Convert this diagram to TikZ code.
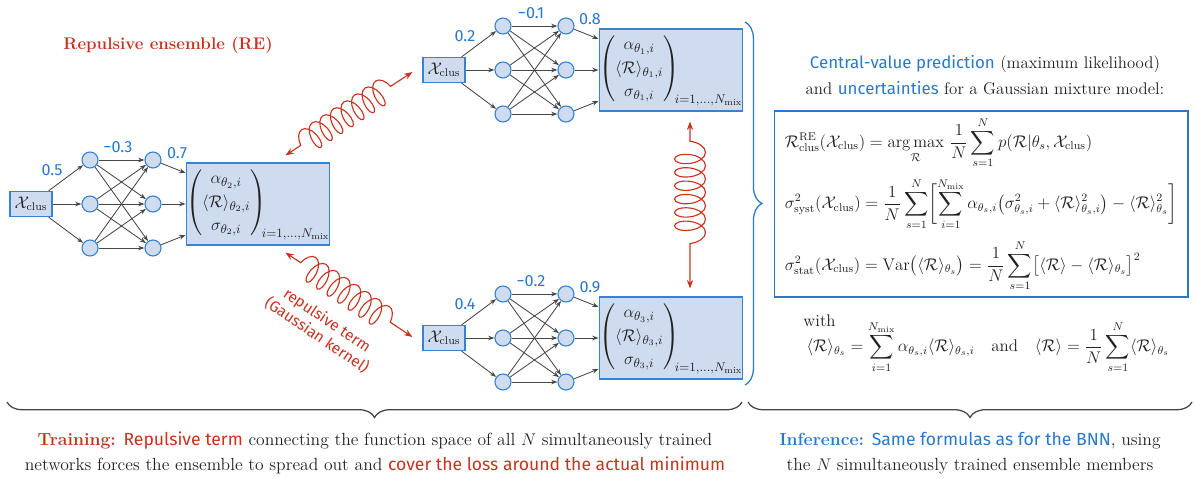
\documentclass[tikz,border=0pt]{standalone}
\usepackage{amsmath}
\usepackage{amssymb}
\usepackage{fontspec}
\usepackage{tikz}
\usetikzlibrary{calc,arrows.meta,decorations.pathmorphing,decorations.pathreplacing,positioning}
\newfontfamily\hlfont{Fira Sans}
\definecolor{myred}{RGB}{200,50,30}
\definecolor{myblue}{RGB}{40,120,205}
\definecolor{boxfill}{RGB}{207,220,240}
\definecolor{boxline}{RGB}{55,130,210}
\definecolor{linkgray}{RGB}{70,70,70}
\newcommand{\RR}{\mathcal{R}}
\newcommand{\XX}{\mathcal{X}_{\text{clus}}}
\newcommand{\Nmix}{N_{\text{mix}}}

% one member of the ensemble: prefix, input position, theta index, three weights
\newcommand{\ensnet}[6]{%
  \node [inbox] (#1in) at (#2) {$\XX$};
  \foreach \j/\dy in {1/-44,2/0,3/44} {
    \node [neuron] (#1a\j) at ($(#1in)+(59,\dy)$) {};
    \node [neuron] (#1b\j) at ($(#1in)+(122,\dy)$) {};
  }
  \node [outbox] (#1out) at ($(#1in)+(227,0)$)
    {\setlength{\arraycolsep}{1.5pt}%
     $\begin{pmatrix}\alpha_{\theta_#3,i}\\ \langle\RR\rangle_{\theta_#3,i}\\ \sigma_{\theta_#3,i}\end{pmatrix}_{\!\!i=1,\dots,\Nmix}$};
  \foreach \j/\dy in {1/-31,2/0,3/31}
    \coordinate (#1o\j) at ($(#1out.west)+(0,\dy)$);
  \node [weight] (#1w1) at ($(#1in)+(21,-34)$) {#4};
  \node [weight] (#1w2) at ($(#1in)+(87,-57)$) {#5};
  \node [weight] (#1w3) at ($(#1in)+(146,-51)$) {#6};
  \foreach \j in {1,2,3} {
    \draw [link] (#1in) -- (#1a\j);
    \draw [link] (#1b\j) -- (#1o\j);
    \foreach \k in {1,2,3}
      \draw [link] (#1a\j) -- (#1b\k);
  }
}

\begin{document}
\begin{tikzpicture}[x=0.025cm, y=-0.025cm,
    every node/.style={font=\fontsize{12}{15}\selectfont, text=black!87},
    inbox/.style={draw=boxline, fill=boxfill, line width=0.8pt, minimum width=1.05cm, minimum height=0.63cm, inner sep=1pt},
    outbox/.style={draw=boxline, fill=boxfill, line width=0.8pt, minimum width=3.35cm, minimum height=2.05cm, inner sep=0pt,
      font=\fontsize{13}{16.5}\selectfont},
    neuron/.style={circle, draw=boxline, fill=boxfill, line width=0.8pt, minimum size=0.4cm, inner sep=0pt},
    weight/.style={font=\hlfont\fontsize{11.5}{13}\selectfont, text=myblue},
    link/.style={linkgray, line width=0.6pt, -{Stealth[length=4.5pt,width=3.2pt]}},
    repel/.style={myred, line width=0.8pt, decorate,
      decoration={coil, amplitude=9pt, segment length=9pt, pre length=13pt, post length=13pt},
      {Stealth[length=6pt,width=4.5pt]}-{Stealth[length=6pt,width=4.5pt]}},
    fbox/.style={draw=myblue, line width=1.2pt, minimum width=10.33cm, minimum height=4.55cm, align=left, inner sep=4pt},
    hl/.style={font=\hlfont\fontsize{12}{15}\selectfont, text=myred}]
  \useasboundingbox (0,0) rectangle (1195,479);

  \node [font=\bfseries\fontsize{12}{15}\selectfont, text=myred] (title) at (168,45) {Repulsive ensemble (RE)};

  % the three networks
  \ensnet{L}{31,204}{2}{0.5}{−0.3}{0.7}
  \ensnet{T}{444,70}{1}{0.2}{−0.1}{0.8}
  \ensnet{B}{444,338}{3}{0.4}{−0.2}{0.9}

  % repulsive coupling
  \coordinate (ltop) at ($(Lout.north east)+(-45,-7)$);
  \coordinate (lbot) at ($(Lout.south east)+(-45,7)$);
  \coordinate (tin) at ($(Tin.west)+(-10,2)$);
  \coordinate (bin) at ($(Bin.west)+(-10,-1)$);
  \coordinate (tout) at ($(Tout.south)+(19,10)$);
  \coordinate (bout) at ($(Bout.north)+(19,-8)$);
  \draw [repel] (ltop) -- (tin);
  \draw [repel] (lbot) -- (bin);
  \draw [repel, decoration={amplitude=11pt, segment length=9.5pt, pre length=14pt, post length=26pt}] (tout) -- (bout);
  \node [hl, rotate=-34, align=center, font=\hlfont\fontsize{11}{13}\selectfont] (kernel) at (322,328)
    {repulsive term\\(Gaussian kernel)};

  % inference side
  \draw [myblue, line width=0.9pt, decorate, decoration={brace, amplitude=12pt}] (745,22) -- (745,385);
  \node [align=center] (head) at (985,75)
    {{\hlfont\color{myblue}Central-value prediction} (maximum likelihood)\\[3pt]
     and {\hlfont\color{myblue}uncertainties} for a Gaussian mixture model:};
  \node [fbox] (fbox) at (981,204) {%
    $\displaystyle \RR^{\text{RE}}_{\text{clus}}(\XX) = \operatorname*{arg\,max}_{\RR}\, \frac{1}{N}\sum_{s=1}^{N} p(\RR|\theta_s,\XX)$\\[6pt]
    $\displaystyle \sigma^2_{\text{syst}}(\XX) = \frac{1}{N}\sum_{s=1}^{N}\biggl[\sum_{i=1}^{\Nmix}\alpha_{\theta_s,i}\bigl(\sigma^2_{\theta_s,i}+\langle\RR\rangle^2_{\theta_s,i}\bigr)-\langle\RR\rangle^2_{\theta_s}\biggr]$\\[6pt]
    $\displaystyle \sigma^2_{\text{stat}}(\XX) = \operatorname{Var}\bigl(\langle\RR\rangle_{\theta_s}\bigr) = \frac{1}{N}\sum_{s=1}^{N}\bigl[\langle\RR\rangle-\langle\RR\rangle_{\theta_s}\bigr]^2$};
  \node [anchor=north west] (with) at ($(fbox.south west)+(25,12)$) {with};
  \node (withf) at (988,347)
    {$\displaystyle \langle\RR\rangle_{\theta_s} = \sum_{i=1}^{\Nmix}\alpha_{\theta_s,i}\langle\RR\rangle_{\theta_s,i}$\quad and\quad
     $\displaystyle \langle\RR\rangle = \frac{1}{N}\sum_{s=1}^{N}\langle\RR\rangle_{\theta_s}$};

  % bottom captions
  \draw [linkgray, line width=0.9pt, decorate, decoration={brace, amplitude=11pt}] (742,402) -- (7,402);
  \draw [linkgray, line width=0.9pt, decorate, decoration={brace, amplitude=11pt}] (1192,402) -- (748,402);
  \node [align=center, font=\fontsize{12.5}{16}\selectfont] (train) at (375,453)
    {{\color{myred}\textbf{Training:} {\hlfont Repulsive term}} connecting the function space of all $N$ simultaneously trained\\[2pt]
     networks forces the ensemble to spread out and {\hlfont\color{myred}cover the loss around the actual minimum}};
  \node [align=center, font=\fontsize{12.5}{16}\selectfont] (infer) at (970,453)
    {{\color{myblue}\textbf{Inference:} {\hlfont Same formulas as for the BNN}}, using\\[2pt]
     the $N$ simultaneously trained ensemble members};
\end{tikzpicture}
\end{document}
